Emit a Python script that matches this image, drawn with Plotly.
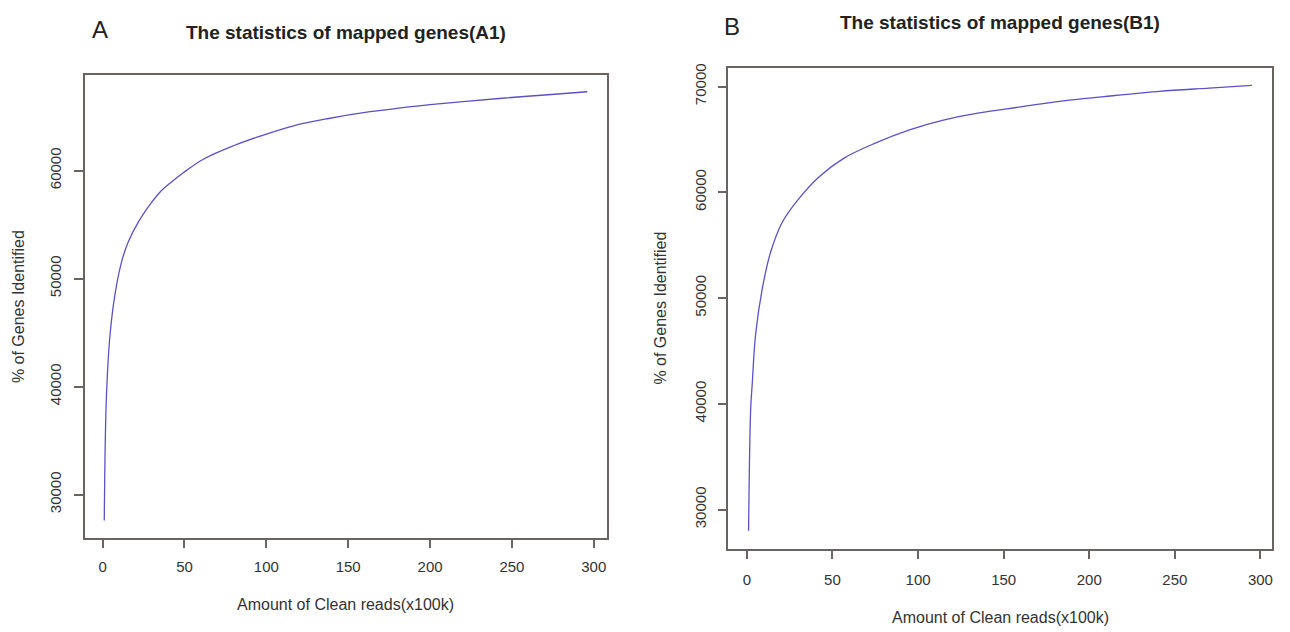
import plotly.graph_objects as go

W, H = 1290, 632

# Panel A data
a_x = [1, 2.2, 4.3, 7.4, 11.5, 15.5, 21.7, 29.9, 35, 42.1, 49.3, 61.5, 79.9, 96.3, 116.7, 137.2, 163.4, 182, 200, 244, 270, 296]
a_y = [27600, 38500, 44400, 48400, 51500, 53350, 55200, 57050, 58000, 58950, 59800, 61050, 62300, 63200, 64150, 64800, 65450, 65800, 66100, 66700, 67000, 67300]

# Panel B data
b_x = [1, 2.2, 3.1, 5.1, 9.0, 13.9, 20.6, 30.4, 42.1, 57, 75, 95, 114.2, 135.7, 158.7, 182.5, 215, 241, 270, 295]
b_y = [28000, 39400, 41800, 46550, 50900, 54350, 57150, 59400, 61450, 63250, 64650, 65900, 66800, 67500, 68050, 68600, 69150, 69550, 69850, 70100]

x_ticks = [0, 50, 100, 150, 200, 250, 300]
a_yticks = [30000, 40000, 50000, 60000]
b_yticks = [30000, 40000, 50000, 60000, 70000]

titles = ["The statistics of mapped genes(A1)", "The statistics of mapped genes(B1)"]
panel_labels = ["A", "B"]
x_title = "Amount of Clean reads(x100k)"
y_title = "% of Genes Identified"

LINE = "#5b50c8"
BOX = "#6b6360"
TXT = "#333333"
FONT = "Liberation Sans, Arial, sans-serif"

OFF = 8  # page body margin

def px(x):
    return (x - OFF) / W

def py(y):
    return 1 - (y - OFF) / H

# plot boxes in pixels (left, top, right, bottom)
boxA = (85, 71, 607, 537)
boxB = (729, 64, 1273, 548)

fig = go.Figure()
fig.add_trace(go.Scatter(x=a_x, y=a_y, mode="lines", line=dict(color=LINE, width=1.3, shape="spline", smoothing=1.0),
                         xaxis="x", yaxis="y", showlegend=False))
fig.add_trace(go.Scatter(x=b_x, y=b_y, mode="lines", line=dict(color=LINE, width=1.3, shape="spline", smoothing=1.0),
                         xaxis="x2", yaxis="y2", showlegend=False))

def axis_common():
    return dict(showgrid=False, zeroline=False, showline=True, mirror=True, linecolor=BOX, linewidth=1.5,
                ticks="outside", ticklen=9, tickwidth=1.5, tickcolor=BOX,
                tickfont=dict(family=FONT, size=15, color=TXT))

def xr(xs):
    lo, hi = min(xs), max(xs)
    d = (hi - lo) * 0.04
    return [lo - d, hi + d]

fig.update_layout(
    width=W, height=H, margin=dict(l=0, r=0, t=0, b=0),
    paper_bgcolor="white", plot_bgcolor="white",
    xaxis=dict(domain=[px(boxA[0]), px(boxA[2])], anchor="y", range=xr(a_x), tickvals=x_ticks,
               ticklabelstandoff=6, **axis_common()),
    yaxis=dict(domain=[py(boxA[3]), py(boxA[1])], anchor="x", range=xr(a_y), tickvals=a_yticks,
               tickformat="d", tickangle=-90, ticklabelstandoff=7, **axis_common()),
    xaxis2=dict(domain=[px(boxB[0]), px(boxB[2])], anchor="y2", range=xr(b_x), tickvals=x_ticks,
                ticklabelstandoff=8, **axis_common()),
    yaxis2=dict(domain=[py(boxB[3]), py(boxB[1])], anchor="x2", range=xr(b_y), tickvals=b_yticks,
                tickformat="d", tickangle=-90, ticklabelstandoff=6, **axis_common()),
)

ann = []
for box, t, lab, lab_pos, lab_anchor, title_y, xt_y, yt_x in [
    (boxA, titles[0], panel_labels[0], (100, 11), "top", 29, 604, 18),
    (boxB, titles[1], panel_labels[1], (733, OFF), "top", 19, 617, 661),
]:
    cx = (box[0] + box[2]) / 2
    cy = (box[1] + box[3]) / 2
    ann.append(dict(x=px(cx), y=py(title_y), xref="paper", yref="paper", text="<b>" + t + "</b>",
                    showarrow=False, xanchor="center", yanchor="middle",
                    font=dict(family=FONT, size=19, color="#222222")))
    ann.append(dict(x=px(lab_pos[0]), y=py(lab_pos[1]), xref="paper", yref="paper", text=lab,
                    showarrow=False, xanchor="center", yanchor=lab_anchor, borderpad=0,
                    font=dict(family=FONT, size=24, color="#222222")))
    ann.append(dict(x=px(cx), y=py(xt_y), xref="paper", yref="paper", text=x_title,
                    showarrow=False, xanchor="center", yanchor="middle",
                    font=dict(family=FONT, size=16, color=TXT)))
    ann.append(dict(x=px(yt_x), y=py(cy), xref="paper", yref="paper", text=y_title, textangle=-90,
                    showarrow=False, xanchor="center", yanchor="middle",
                    font=dict(family=FONT, size=16, color=TXT)))
fig.update_layout(annotations=ann)

fig.write_html("out.html")
